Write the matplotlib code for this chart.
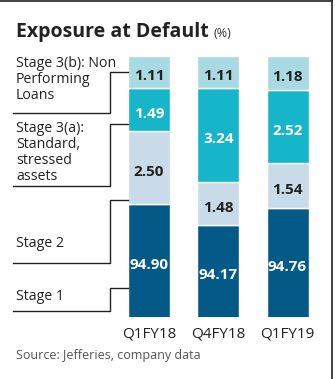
import numpy as np
import matplotlib
matplotlib.use('Agg')
import matplotlib.pyplot as plt
from matplotlib.lines import Line2D

plt.rcParams['font.family'] = ['Open Sans', 'DejaVu Sans']

quarters = ['Q1FY18', 'Q4FY18', 'Q1FY19']
stage1 = [94.90, 94.17, 94.76]
stage2 = [2.50, 1.48, 1.54]
stage3a = [1.49, 3.24, 2.52]
stage3b = [1.11, 1.11, 1.18]
stage_names = ['Stage 1', 'Stage 2', 'Stage 3(a):\nStandard,\nstressed\nassets',
               'Stage 3(b): Non\nPerforming\nLoans']

colors = ['#045a87', '#c9dbe9', '#16b6ca', '#a9dae4']
txt_colors = ['white', '#222222', 'white', '#222222']

W, H = 335, 379
fig = plt.figure(figsize=(W / 100, H / 100), dpi=100)

def fx(x):
    return x / W

def fy(y):
    return 1 - y / H

ax = fig.add_axes([fx(114.4), fy(317), fx(207.75), 261 / H])

x = np.arange(len(quarters))
series = [stage1, stage2, stage3a, stage3b]
bottom = np.zeros(len(quarters))
for vals, c, tc in zip(series, colors, txt_colors):
    vals = np.array(vals)
    ax.bar(x, vals, 0.607, bottom=bottom, color=c, edgecolor='white', linewidth=1)
    for xi, b, v in zip(x, bottom, vals):
        lo = max(b, 91)
        mid = (lo + b + v) / 2
        ax.text(xi, mid - 0.14, f'{v:.2f}', ha='center', va='center',
                color=tc, fontsize=11, fontweight='bold')
    bottom += vals

ax.set_xlim(-0.5, 2.5)
ax.set_ylim(91, 100)
ax.set_yticks([])
ax.set_xticks(x)
ax.set_xticklabels(quarters, fontsize=11, color='#222222')
ax.tick_params(axis='x', length=0, pad=7)
for s in ax.spines.values():
    s.set_visible(False)

# title
fig.text(fx(16), fy(37), 'Exposure at Default', fontsize=14, fontweight='bold',
         color='#222222', va='baseline')
fig.text(fx(213), fy(37), '(%)', fontsize=9, color='#333333', va='baseline')

# stage labels with connector lines
label_pos = [297, 243, 121, 56]
under = [311, 263, 186, 113]
connect = [288, 200, 124, 72]
for name, ty, uy, cy in zip(stage_names, label_pos, under, connect):
    fig.text(fx(16), fy(ty), name, fontsize=10.2, color='#222222',
             va='center' if '\n' not in name else 'top', linespacing=1.08)
    xs = [fx(13), fx(110), fx(110), fx(128)]
    ys = [fy(uy), fy(uy), fy(cy), fy(cy)]
    fig.add_artist(Line2D(xs, ys, color='#222222', lw=1))

fig.text(fx(16), fy(355), 'Source: Jefferies, company data', fontsize=9,
         color='#555555', va='center')

# frame
fig.add_artist(Line2D([0, fx(332)], [fy(0.5), fy(0.5)], color='#222222', lw=1.2))
fig.add_artist(Line2D([fx(332), fx(332)], [0, 1], color='#222222', lw=1.2))

fig.savefig('out.png', dpi=100)
